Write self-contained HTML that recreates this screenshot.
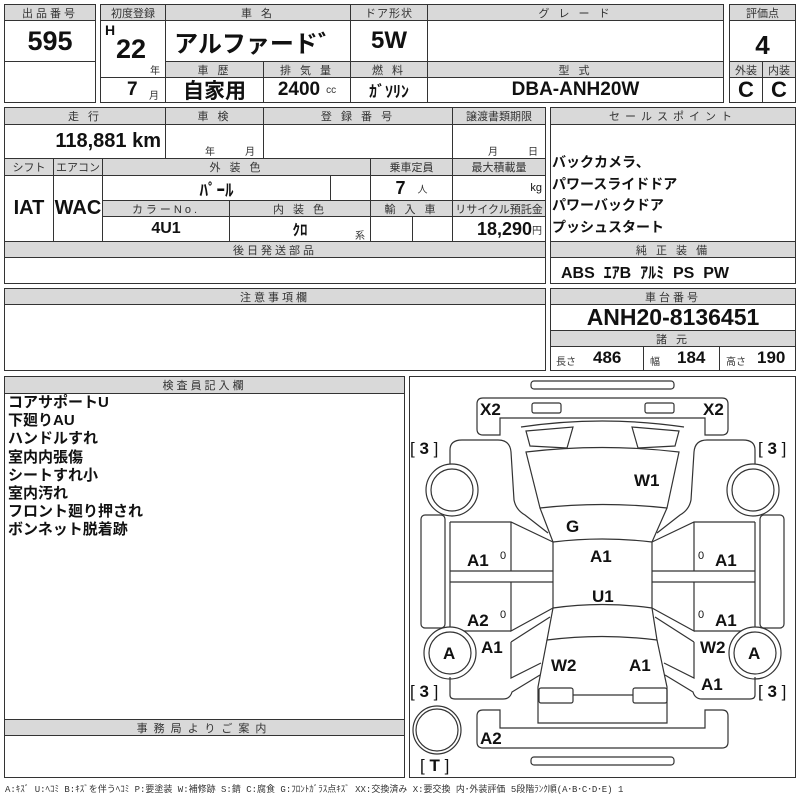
<!DOCTYPE html>
<html><head><meta charset="utf-8"><style>
*{margin:0;padding:0;box-sizing:border-box}
body{width:800px;height:800px;background:#fff;position:relative;overflow:hidden;font-family:"Liberation Sans","Noto Sans CJK JP",sans-serif;color:#111}
.c{position:absolute;border:1px solid #333;display:flex;align-items:center;justify-content:center;white-space:nowrap}
.h{background:#d9d9d9;font-size:11px;color:#333;letter-spacing:3px}
.v{font-family:"Liberation Sans Narrow","Liberation Sans","Noto Sans CJK JP",sans-serif;font-weight:bold}
.s{font-size:10px;font-weight:normal;color:#333}
.o{position:absolute;border:1.5px solid #222}
.t{position:absolute;white-space:nowrap}
</style></head><body>
<!-- box1 -->
<div class="c h" style="left:4px;top:4px;width:92px;height:17px">出品番号</div>
<div class="c v" style="left:4px;top:20px;width:92px;height:42px;font-size:27px">595</div>
<div class="c" style="left:4px;top:61px;width:92px;height:42px"></div>
<!-- box2 -->
<div class="c h" style="left:100px;top:4px;width:66px;height:17px;letter-spacing:0">初度登録</div>
<div class="c h" style="left:165px;top:4px;width:186px;height:17px">車 名</div>
<div class="c h" style="left:350px;top:4px;width:78px;height:17px;letter-spacing:1px">ドア形状</div>
<div class="c h" style="left:427px;top:4px;width:297px;height:17px">グ レ ー ド</div>
<div class="c" style="left:100px;top:20px;width:66px;height:58px"></div>
<div class="t v" style="left:105px;top:22px;font-size:14px">H</div>
<div class="t v" style="left:116px;top:34px;font-size:27px">22</div>
<div class="t s" style="left:150px;top:62px">年</div>
<div class="c" style="left:100px;top:77px;width:66px;height:26px"></div>
<div class="t v" style="left:127px;top:79px;font-size:19px">7</div>
<div class="t s" style="left:149px;top:87px">月</div>
<div class="c v" style="left:165px;top:20px;width:186px;height:42px;font-size:24px">アルファード゛</div>
<div class="c v" style="left:350px;top:20px;width:78px;height:42px;font-size:24px">5W</div>
<div class="c" style="left:427px;top:20px;width:297px;height:42px"></div>
<div class="c h" style="left:165px;top:61px;width:99px;height:17px">車 歴</div>
<div class="c h" style="left:263px;top:61px;width:88px;height:17px">排 気 量</div>
<div class="c h" style="left:350px;top:61px;width:78px;height:17px">燃 料</div>
<div class="c h" style="left:427px;top:61px;width:297px;height:17px">型 式</div>
<div class="c v" style="left:165px;top:77px;width:99px;height:26px;font-size:21px">自家用</div>
<div class="c v" style="left:263px;top:77px;width:88px;height:26px;font-size:19px">2400<span class="s" style="margin-left:6px">cc</span></div>
<div class="c v" style="left:350px;top:77px;width:78px;height:26px;font-size:16px">ｶﾞｿﾘﾝ</div>
<div class="c v" style="left:427px;top:77px;width:297px;height:26px;font-size:19px">DBA-ANH20W</div>
<!-- box3 -->
<div class="c h" style="left:729px;top:4px;width:67px;height:17px;letter-spacing:0">評価点</div>
<div class="c v" style="left:729px;top:20px;width:67px;height:42px;font-size:26px;padding-top:8px">4</div>
<div class="c h" style="left:729px;top:61px;width:34px;height:17px;letter-spacing:0">外装</div>
<div class="c h" style="left:762px;top:61px;width:34px;height:17px;letter-spacing:0">内装</div>
<div class="c v" style="left:729px;top:77px;width:34px;height:26px;font-size:22px">C</div>
<div class="c v" style="left:762px;top:77px;width:34px;height:26px;font-size:22px">C</div>
<!-- section 2 -->
<div class="c h" style="left:4px;top:107px;width:162px;height:18px">走 行</div>
<div class="c h" style="left:165px;top:107px;width:99px;height:18px">車 検</div>
<div class="c h" style="left:263px;top:107px;width:190px;height:18px">登 録 番 号</div>
<div class="c h" style="left:452px;top:107px;width:94px;height:18px;letter-spacing:0">譲渡書類期限</div>
<div class="c v" style="left:4px;top:124px;width:162px;height:35px;font-size:20px;justify-content:flex-end;padding-right:4px">118,881 km</div>
<div class="c" style="left:165px;top:124px;width:99px;height:35px"></div>
<div class="t s" style="left:205px;top:143px">年</div><div class="t s" style="left:245px;top:143px">月</div>
<div class="c" style="left:263px;top:124px;width:190px;height:35px"></div>
<div class="c" style="left:452px;top:124px;width:94px;height:35px"></div>
<div class="t s" style="left:488px;top:143px">月</div><div class="t s" style="left:528px;top:143px">日</div>
<div class="c h" style="left:4px;top:158px;width:50px;height:18px;letter-spacing:0">シフト</div>
<div class="c h" style="left:53px;top:158px;width:50px;height:18px;letter-spacing:0">エアコン</div>
<div class="c h" style="left:102px;top:158px;width:269px;height:18px">外 装 色</div>
<div class="c h" style="left:370px;top:158px;width:83px;height:18px;letter-spacing:0">乗車定員</div>
<div class="c h" style="left:452px;top:158px;width:94px;height:18px;letter-spacing:0">最大積載量</div>
<div class="c v" style="left:4px;top:175px;width:50px;height:67px;font-size:20px">IAT</div>
<div class="c v" style="left:53px;top:175px;width:50px;height:67px;font-size:20px">WAC</div>
<div class="c v" style="left:102px;top:175px;width:229px;height:26px;font-size:17px">ﾊﾟｰﾙ</div>
<div class="c" style="left:330px;top:175px;width:41px;height:26px"></div>
<div class="c v" style="left:370px;top:175px;width:83px;height:26px;font-size:18px">7<span class="s" style="margin-left:12px">人</span></div>
<div class="c" style="left:452px;top:175px;width:94px;height:26px;justify-content:flex-end;padding-right:3px;font-size:11px">kg</div>
<div class="c h" style="left:102px;top:200px;width:128px;height:17px">カラーNo.</div>
<div class="c h" style="left:229px;top:200px;width:142px;height:17px">内 装 色</div>
<div class="c h" style="left:370px;top:200px;width:83px;height:17px">輸 入 車</div>
<div class="c h" style="left:452px;top:200px;width:94px;height:17px;letter-spacing:0">リサイクル預託金</div>
<div class="c v" style="left:102px;top:216px;width:128px;height:26px;font-size:16px">4U1</div>
<div class="c v" style="left:229px;top:216px;width:142px;height:26px;font-size:15px">ｸﾛ</div>
<div class="t s" style="left:355px;top:227px">系</div>
<div class="c" style="left:370px;top:216px;width:43px;height:26px"></div>
<div class="c" style="left:412px;top:216px;width:41px;height:26px"></div>
<div class="c v" style="left:452px;top:216px;width:94px;height:26px;font-size:18px;justify-content:flex-end;padding-right:3px">18,290<span class="s">円</span></div>
<div class="c h" style="left:4px;top:241px;width:542px;height:17px">後日発送部品</div>
<div class="c" style="left:4px;top:257px;width:542px;height:27px"></div>
<!-- sales point -->
<div class="c h" style="left:550px;top:107px;width:246px;height:18px;letter-spacing:5px">セールスポイント</div>
<div class="c" style="left:550px;top:124px;width:246px;height:118px"></div>
<div class="t" style="left:552px;top:152px;font-size:14px;font-weight:bold;line-height:21.5px">バックカメラ、<br>パワースライドドア<br>パワーバックドア<br>プッシュスタート</div>
<div class="c h" style="left:550px;top:241px;width:246px;height:17px">純 正 装 備</div>
<div class="c v" style="left:550px;top:257px;width:246px;height:27px;font-size:16px;justify-content:flex-start;padding-left:10px">ABS&nbsp; ｴｱB&nbsp; ｱﾙﾐ&nbsp; PS&nbsp; PW</div>
<!-- section 3 -->
<div class="c h" style="left:4px;top:288px;width:542px;height:17px">注意事項欄</div>
<div class="c" style="left:4px;top:304px;width:542px;height:67px"></div>
<div class="c h" style="left:550px;top:288px;width:246px;height:17px">車台番号</div>
<div class="c v" style="left:550px;top:304px;width:246px;height:27px;font-size:23px">ANH20-8136451</div>
<div class="c h" style="left:550px;top:330px;width:246px;height:17px">諸 元</div>
<div class="c" style="left:550px;top:346px;width:94px;height:25px"></div>
<div class="c" style="left:643px;top:346px;width:77px;height:25px"></div>
<div class="c" style="left:719px;top:346px;width:77px;height:25px"></div>
<div class="t s" style="left:556px;top:353px">長さ</div><div class="t v" style="left:593px;top:348px;font-size:17px">486</div>
<div class="t s" style="left:650px;top:353px">幅</div><div class="t v" style="left:677px;top:348px;font-size:17px">184</div>
<div class="t s" style="left:726px;top:353px">高さ</div><div class="t v" style="left:757px;top:348px;font-size:17px">190</div>
<!-- section 4 -->
<div class="c h" style="left:4px;top:376px;width:401px;height:18px">検査員記入欄</div>
<div class="c" style="left:4px;top:393px;width:401px;height:327px"></div>
<div class="t" style="left:8px;top:394px;font-size:15px;font-weight:bold;line-height:18.2px">コアサポートU<br>下廻りAU<br>ハンドルすれ<br>室内内張傷<br>シートすれ小<br>室内汚れ<br>フロント廻り押され<br>ボンネット脱着跡</div>
<div class="c h" style="left:4px;top:719px;width:401px;height:17px;letter-spacing:6px">事務局よりご案内</div>
<div class="c" style="left:4px;top:735px;width:401px;height:43px"></div>
<div class="t" style="left:5px;top:782px;font-size:9px;color:#333;font-family:'Liberation Mono','Noto Sans CJK JP',monospace">A:ｷｽﾞ U:ﾍｺﾐ B:ｷｽﾞを伴うﾍｺﾐ P:要塗装 W:補修跡 S:錆 C:腐食 G:ﾌﾛﾝﾄｶﾞﾗｽ点ｷｽﾞ XX:交換済み X:要交換 内･外装評価 5段階ﾗﾝｸ順(A･B･C･D･E) 1</div>
<!-- car diagram -->
<div class="c" style="left:409px;top:376px;width:387px;height:402px"></div>
<svg style="position:absolute;left:0;top:0" width="800" height="800" viewBox="0 0 800 800" fill="none" stroke="#333" stroke-width="1.2">
<rect x="531" y="381" width="143" height="8" rx="3"/>
<rect x="531" y="757" width="143" height="8" rx="3"/>
<path d="M500,435 L483,435 Q477,435 477,429 L477,404 Q477,398 483,398 L722,398 Q728,398 728,404 L728,429 Q728,435 722,435 L705,435 L705,418 L500,418 Z"/>
<rect x="532" y="403" width="29" height="10" rx="2"/>
<rect x="645" y="403" width="29" height="10" rx="2"/>
<path d="M521,427 Q602,415 684,427"/>
<path d="M526,431 L573,427 L567,448 L530,446 Z"/>
<path d="M679,431 L632,427 L638,448 L675,446 Z"/>
<path d="M526,452 Q602,443 679,452 L667,508 Q602,501 540,508 Z"/>
<path d="M540,508 L553,542 Q602,536 652,542 L667,508"/>
<path d="M553,542 L553,608 Q602,601 652,608 L652,542"/>
<path d="M553,608 L547,640 Q602,633 657,640 L652,608"/>
<path d="M547,640 L538,687 L538,723 L667,723 L667,687 L657,640"/>
<rect x="539" y="688" width="34" height="15" rx="2"/>
<rect x="633" y="688" width="34" height="15" rx="2"/>
<path d="M573,695 L633,695"/>
<path d="M477,716 Q477,710 483,710 L500,710 L500,728 L705,728 L705,710 L722,710 Q728,710 728,716 L728,742 Q728,748 722,748 L483,748 Q477,748 477,742 Z"/>
<g id="L">
<path d="M450,466 L450,450 Q450,440 462,440 L498,440 Q510,440 511,452 L514,500 Q516,510 525,515 L548,533"/>
<circle cx="452" cy="490" r="26" fill="#fff"/><circle cx="452" cy="490" r="21"/>
<rect x="421" y="515" width="24" height="113" rx="4"/>
<path d="M450,522 L511,522 L553,542 M511,522 L511,571 M450,571 L553,571 M450,582 L553,582 M511,582 L511,631 L553,608 M450,631 L511,631 M450,522 L450,631"/>
<path d="M511,642 L550,617 M511,642 L511,678 L541,663"/>
<circle cx="450" cy="653" r="26" fill="#fff"/><circle cx="450" cy="653" r="21"/>
<path d="M450,677 L450,695 Q450,699 455,699 L503,699 Q510,699 512,692 L540,675"/>
</g>
<use href="#L" transform="translate(1205,0) scale(-1,1)"/>
<circle cx="437" cy="730" r="24"/><circle cx="437" cy="730" r="21"/>
</svg>
<div style="position:absolute;left:0;top:0;font-weight:bold;font-size:17px;font-family:'Liberation Sans',sans-serif">
<div class="t" style="left:480px;top:400px">X2</div>
<div class="t" style="left:703px;top:400px">X2</div>
<div class="t" style="left:410px;top:439px;font-weight:normal">[ <b>3</b> ]</div>
<div class="t" style="left:758px;top:439px;font-weight:normal">[ <b>3</b> ]</div>
<div class="t" style="left:410px;top:682px;font-weight:normal">[ <b>3</b> ]</div>
<div class="t" style="left:758px;top:682px;font-weight:normal">[ <b>3</b> ]</div>
<div class="t" style="left:420px;top:756px;font-weight:normal">[ <b>T</b> ]</div>
<div class="t" style="left:634px;top:471px">W1</div>
<div class="t" style="left:566px;top:517px">G</div>
<div class="t" style="left:467px;top:551px">A1</div>
<div class="t" style="left:500px;top:550px;font-size:11px;font-weight:normal">0</div>
<div class="t" style="left:590px;top:547px">A1</div>
<div class="t" style="left:698px;top:550px;font-size:11px;font-weight:normal">0</div>
<div class="t" style="left:715px;top:551px">A1</div>
<div class="t" style="left:592px;top:587px">U1</div>
<div class="t" style="left:467px;top:611px">A2</div>
<div class="t" style="left:500px;top:609px;font-size:11px;font-weight:normal">0</div>
<div class="t" style="left:698px;top:609px;font-size:11px;font-weight:normal">0</div>
<div class="t" style="left:715px;top:611px">A1</div>
<div class="t" style="left:481px;top:638px">A1</div>
<div class="t" style="left:443px;top:644px">A</div>
<div class="t" style="left:700px;top:638px">W2</div>
<div class="t" style="left:748px;top:644px">A</div>
<div class="t" style="left:551px;top:656px">W2</div>
<div class="t" style="left:629px;top:656px">A1</div>
<div class="t" style="left:701px;top:675px">A1</div>
<div class="t" style="left:480px;top:729px">A2</div>
</div>
</body></html>
